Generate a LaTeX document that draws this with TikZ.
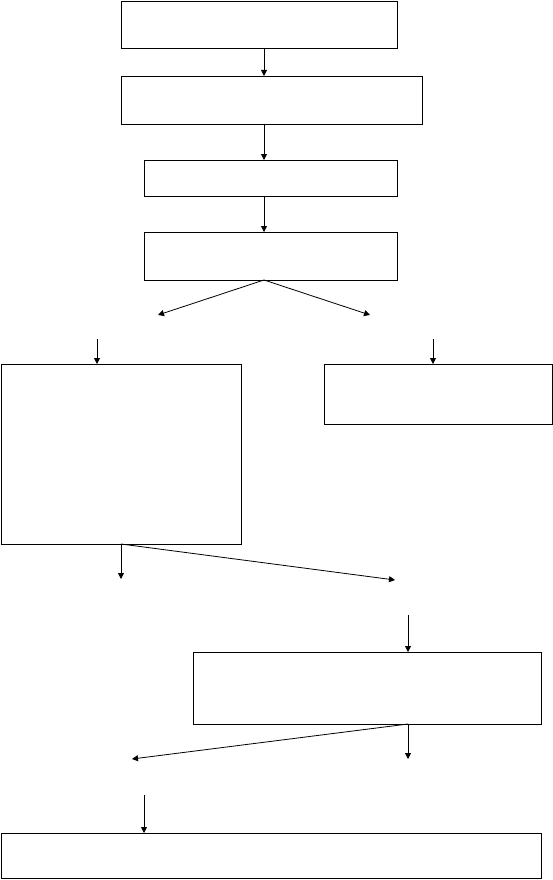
\documentclass[tikz,border=0pt]{standalone}
\usepackage{tikz}
\usetikzlibrary{arrows.meta,calc}
\tikzset{
  node-box/.style={draw=black,line width=0.8pt,inner sep=0pt,outer sep=0pt},
  arrow/.style={-{Triangle[length=6pt,width=6pt]},line width=0.8pt,draw=black},
}

\begin{document}
\begin{tikzpicture}[x=1pt,y=-1pt]
  \useasboundingbox (0,0) rectangle (553,880);
  % boxes
  \node[node-box,minimum width=276pt,minimum height=47pt] (b1) at (259,24.5) {};
  \node[node-box,minimum width=301pt,minimum height=48pt] (b2) at (271.5,100) {};
  \node[node-box,minimum width=253pt,minimum height=36pt] (b3) at (270.5,178) {};
  \node[node-box,minimum width=253pt,minimum height=48pt] (b4) at (270.5,256) {};
  \node[node-box,minimum width=240pt,minimum height=180pt] (b5) at (121,454) {};
  \node[node-box,minimum width=228pt,minimum height=60pt] (b6) at (438,394) {};
  \node[node-box,minimum width=348pt,minimum height=72pt] (b7) at (367,688) {};
  \node[node-box,minimum width=540pt,minimum height=45pt] (b8) at (271,855.5) {};
  % free ends
  \coordinate (axis) at (264,0);
  \coordinate (l1) at (158,315);
  \coordinate (r1) at (370,315);
  \coordinate (l2) at (97,339);
  \coordinate (r2) at (433,339);
  \coordinate (l3) at (121,579);
  \coordinate (r3) at (395,580);
  \coordinate (r4) at (408,615);
  \coordinate (r5) at (408,759);
  \coordinate (l5) at (132,759);
  \coordinate (l6) at (144,795);
  % connectors
  \draw[arrow] (b1.south -| axis) -- (b2.north -| axis);
  \draw[arrow] (b2.south -| axis) -- (b3.north -| axis);
  \draw[arrow] (b3.south -| axis) -- (b4.north -| axis);
  \draw[arrow] (b4.south -| axis) -- (l1);
  \draw[arrow] (b4.south -| axis) -- (r1);
  \draw[arrow] (l2) -- (b5.north -| l2);
  \draw[arrow] (r2) -- (b6.north -| r2);
  \draw[arrow] (b5.south -| l3) -- (l3);
  \draw[arrow] (b5.south -| l3) -- (r3);
  \draw[arrow] (r4) -- (b7.north -| r4);
  \draw[arrow] (b7.south -| r5) -- (r5);
  \draw[arrow] (b7.south -| r5) -- (l5);
  \draw[arrow] (l6) -- (b8.north -| l6);
\end{tikzpicture}
\end{document}
